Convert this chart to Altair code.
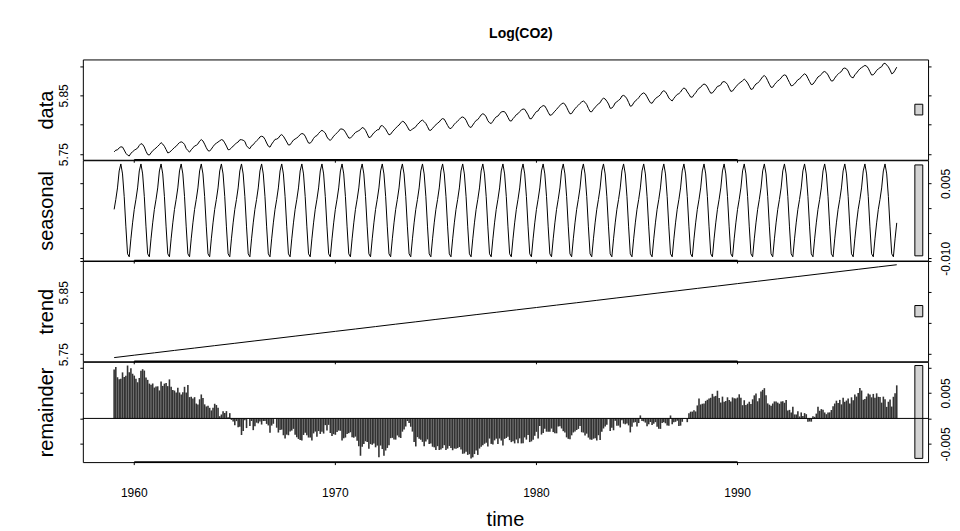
import altair as alt
import numpy as np
import pandas as pd

# Monthly atmospheric CO2 (ppm), Mauna Loa, one row per year (Jan..Dec), 1959-1997
first_year = 1959
co2_ppm = [
    [315.42, 316.31, 316.50, 317.56, 318.13, 318.00, 316.39, 314.65, 313.68, 313.18, 314.66, 315.43],
    [316.27, 316.81, 317.42, 318.87, 319.87, 319.43, 318.01, 315.74, 314.00, 313.68, 314.84, 316.03],
    [316.73, 317.54, 318.38, 319.31, 320.42, 319.61, 318.42, 316.63, 314.83, 315.16, 315.94, 316.85],
    [317.78, 318.40, 319.53, 320.42, 320.85, 320.45, 319.45, 317.25, 316.11, 315.27, 316.53, 317.53],
    [318.58, 318.92, 319.70, 321.22, 322.08, 321.31, 319.58, 317.61, 316.05, 315.83, 316.91, 318.20],
    [319.41, 320.07, 320.74, 321.40, 322.06, 321.73, 320.27, 318.54, 316.54, 316.71, 317.53, 318.55],
    [319.27, 320.28, 320.73, 321.97, 322.00, 321.71, 321.05, 318.71, 317.66, 317.14, 318.70, 319.25],
    [320.46, 321.43, 322.23, 323.54, 323.91, 323.59, 322.24, 320.20, 318.48, 317.94, 319.63, 320.87],
    [322.17, 322.34, 322.88, 324.25, 324.83, 323.93, 322.38, 320.76, 319.10, 319.24, 320.56, 321.80],
    [322.40, 322.99, 323.73, 324.86, 325.40, 325.20, 323.98, 321.95, 320.18, 320.09, 321.16, 322.74],
    [323.83, 324.26, 325.47, 326.50, 327.21, 326.54, 325.72, 323.50, 322.22, 321.62, 322.69, 323.95],
    [324.89, 325.82, 326.77, 327.97, 327.91, 327.50, 326.18, 324.53, 322.93, 322.90, 323.85, 324.96],
    [326.01, 326.51, 327.01, 327.62, 328.76, 328.40, 327.20, 325.27, 323.20, 323.40, 324.63, 325.85],
    [326.60, 327.47, 327.58, 329.56, 329.90, 328.92, 327.88, 326.16, 324.68, 325.04, 326.34, 327.39],
    [328.37, 329.40, 330.14, 331.33, 332.31, 331.90, 330.70, 329.15, 327.35, 327.02, 327.99, 328.48],
    [329.18, 330.55, 331.32, 332.48, 332.92, 332.08, 331.01, 329.23, 327.27, 327.21, 328.29, 329.41],
    [330.23, 331.25, 331.87, 333.14, 333.80, 333.43, 331.73, 329.90, 328.40, 328.17, 329.32, 330.59],
    [331.58, 332.39, 333.33, 334.41, 334.71, 334.17, 332.89, 330.77, 329.14, 328.78, 330.14, 331.52],
    [332.75, 333.24, 334.53, 335.90, 336.57, 336.10, 334.76, 332.59, 331.42, 330.98, 332.24, 333.68],
    [334.80, 335.22, 336.47, 337.59, 337.84, 337.72, 336.37, 334.51, 332.60, 332.38, 333.75, 334.78],
    [336.05, 336.59, 337.79, 338.71, 339.30, 339.12, 337.56, 335.92, 333.75, 333.70, 335.12, 336.56],
    [337.84, 338.19, 339.91, 340.60, 341.29, 341.00, 339.39, 337.43, 335.72, 335.84, 336.93, 338.04],
    [339.06, 340.30, 341.21, 342.33, 342.74, 342.08, 340.32, 338.26, 336.52, 336.68, 338.19, 339.44],
    [340.57, 341.44, 342.53, 343.39, 343.96, 343.18, 341.88, 339.65, 337.81, 337.69, 339.09, 340.32],
    [341.20, 342.35, 342.93, 344.77, 345.58, 345.14, 343.81, 342.21, 339.69, 339.82, 340.98, 342.82],
    [343.52, 344.33, 345.11, 346.88, 347.25, 346.62, 345.22, 343.11, 340.90, 341.18, 342.80, 344.04],
    [344.79, 345.82, 347.25, 348.17, 348.74, 348.07, 346.38, 344.51, 342.92, 342.62, 344.06, 345.38],
    [346.11, 346.78, 347.68, 349.37, 350.03, 349.37, 347.76, 345.73, 344.68, 343.99, 345.48, 346.72],
    [347.84, 348.29, 349.23, 350.80, 351.66, 351.07, 349.33, 347.92, 346.27, 346.18, 347.64, 348.78],
    [350.25, 351.54, 352.05, 353.41, 354.04, 353.62, 352.22, 350.27, 348.55, 348.72, 349.91, 351.18],
    [352.60, 352.92, 353.53, 355.26, 355.52, 354.97, 353.75, 351.52, 349.64, 349.83, 351.14, 352.37],
    [353.50, 354.55, 355.23, 356.04, 357.00, 356.07, 354.67, 352.76, 350.82, 351.04, 352.69, 354.07],
    [354.59, 355.63, 357.03, 358.48, 359.22, 358.12, 356.06, 353.92, 352.05, 352.11, 353.64, 354.89],
    [355.88, 356.63, 357.72, 359.07, 359.58, 359.17, 356.94, 354.92, 352.94, 353.23, 354.09, 355.33],
    [356.63, 357.10, 358.32, 359.41, 360.23, 359.55, 357.53, 355.48, 353.67, 353.95, 355.30, 356.78],
    [358.34, 358.89, 359.95, 361.25, 361.67, 360.94, 359.55, 357.49, 355.84, 356.00, 357.59, 359.05],
    [359.98, 361.03, 361.66, 363.48, 363.82, 363.30, 361.94, 359.50, 358.11, 357.80, 359.61, 360.74],
    [362.09, 363.29, 364.06, 364.76, 365.45, 365.01, 363.70, 361.54, 359.51, 359.65, 360.80, 362.38],
    [363.23, 364.06, 364.61, 366.40, 366.84, 365.68, 364.52, 362.57, 360.24, 360.83, 362.49, 364.34],
]

# Periodic seasonal component of log(CO2), Jan..Dec
seasonal_cycle = [-0.0002, 0.0018, 0.0041, 0.0075, 0.0089, 0.0069,
                  0.0024, -0.0037, -0.0091, -0.0097, -0.0061, -0.0029]

# Trend component, at each January plus the last month
trend_times = [1959, 1960, 1961, 1962, 1963, 1964, 1965, 1966, 1967, 1968,
               1969, 1970, 1971, 1972, 1973, 1974, 1975, 1976, 1977, 1978,
               1979, 1980, 1981, 1982, 1983, 1984, 1985, 1986, 1987, 1988,
               1989, 1990, 1991, 1992, 1993, 1994, 1995, 1996, 1997, 1997.9167]
trend_values = [5.7445, 5.7484, 5.7522, 5.7561, 5.7599, 5.7638, 5.7676, 5.7715, 5.7753, 5.7792,
                5.7830, 5.7869, 5.7907, 5.7946, 5.7985, 5.8023, 5.8062, 5.8100, 5.8139, 5.8177,
                5.8216, 5.8254, 5.8293, 5.8331, 5.8370, 5.8409, 5.8447, 5.8486, 5.8524, 5.8563,
                5.8601, 5.8640, 5.8678, 5.8717, 5.8755, 5.8794, 5.8832, 5.8871, 5.8910, 5.8945]

x_ticks = [1960, 1970, 1980, 1990]
x_title = "time"
data_ticks = [5.75, 5.80, 5.85, 5.90]
data_labels = [5.75, 5.85]
seasonal_ticks = [-0.010, -0.005, 0.000, 0.005]
seasonal_labels = [-0.010, 0.005]
trend_ticks = [5.75, 5.80, 5.85, 5.90]
trend_labels = [5.75, 5.85]
remainder_ticks = [-0.005, 0.000, 0.005, 0.010]
remainder_labels = [-0.005, 0.005]

# ---- assemble series (STL parts: remainder = data - seasonal - trend) ----
n_years = len(co2_ppm)
time = first_year + np.arange(12 * n_years) / 12.0
log_co2 = np.log(np.array(co2_ppm).ravel())
seasonal = np.tile(np.array(seasonal_cycle), n_years)
trend_monthly = np.interp(time, trend_times, trend_values)
remainder = log_co2 - seasonal - trend_monthly

df = pd.DataFrame({"time": time, "data": log_co2, "seasonal": seasonal,
                   "trend": trend_monthly, "remainder": remainder, "zero": 0.0})
trend_df = pd.DataFrame({"time": trend_times, "trend": trend_values})


def r_lim(vals, f=0.04):
    lo, hi = float(np.min(vals)), float(np.max(vals))
    d = (hi - lo) * f
    return [lo - d, hi + d]


xlim = r_lim(time)
doms = {"data": r_lim(log_co2), "seasonal": r_lim(seasonal),
        "trend": r_lim(trend_values), "remainder": r_lim(remainder)}
ranges = {"data": np.ptp(log_co2), "seasonal": np.ptp(seasonal),
          "trend": np.ptp(trend_values), "remainder": np.ptp(remainder)}
mx = min(ranges.values())
dx = (xlim[1] - xlim[0]) / 64.0

W, H = 847, 100.5
FONT = "Liberation Sans"
TICK_PX = 3.0
xscale = alt.Scale(domain=xlim, nice=False, zero=False)


def label_expr(labels, fmt):
    cond = " || ".join(f"abs(datum.value - ({v})) < 1e-9" for v in labels)
    return f"({cond}) ? replace(format(datum.value, '{fmt}'), '\u2212', '-') : ''"


def panel(name, ticks, labels, fmt, left_labels, bottom):
    dom = doms[name]
    span = dom[1] - dom[0]
    yscale = alt.Scale(domain=dom, nice=False, zero=False)
    left_axis = alt.Axis(orient="left", values=ticks, labels=left_labels,
                         labelExpr=label_expr(labels, fmt),
                         labelAngle=270, labelAlign="center", labelBaseline="alphabetic",
                         labelPadding=12, labelFontSize=12, labelFlush=False,
                         labelOverlap=False, labelBound=False,
                         tickSize=3, tickColor="black", domain=False, grid=False,
                         title=name, titleAngle=270, titleX=-30, titleY=H / 2,
                         titleAlign="center", titleBaseline="alphabetic",
                         titleFontSize=20, titleFontWeight="normal", titleFont=FONT)
    right_axis = alt.Axis(orient="right", values=ticks, labels=not left_labels,
                          labelExpr=label_expr(labels, fmt),
                          labelAngle=270, labelAlign="center", labelBaseline="top",
                          labelPadding=9, labelFontSize=12, labelFlush=False,
                          labelOverlap=False, labelBound=False,
                          tickSize=3, tickColor="black", domain=False, grid=False, title=None)

    base = alt.Chart(df)
    if name == "remainder":
        main = base.mark_rule(color="#333333", strokeWidth=1.6).encode(
            x=alt.X("time:Q", scale=xscale, axis=None),
            y=alt.Y("zero:Q", scale=yscale, axis=left_axis),
            y2="remainder:Q")
    elif name == "trend":
        main = alt.Chart(trend_df).mark_line(color="black", strokeWidth=1).encode(
            x=alt.X("time:Q", scale=xscale, axis=None),
            y=alt.Y("trend:Q", scale=yscale, axis=left_axis))
    else:
        main = base.mark_line(color="black", strokeWidth=1).encode(
            x=alt.X("time:Q", scale=xscale, axis=None),
            y=alt.Y(f"{name}:Q", scale=yscale, axis=left_axis))

    # range bar (same data length in every panel)
    mid = (dom[0] + dom[1]) / 2.0
    bar_df = pd.DataFrame({"x1": [xlim[1] - dx], "x2": [xlim[1] - 0.4 * dx],
                           "lo": [mid - mx / 2.0], "hi": [mid + mx / 2.0]})
    bar = alt.Chart(bar_df).mark_rect(fill="#d3d3d3", stroke="black", strokeWidth=1).encode(
        x=alt.X("x1:Q", scale=xscale, axis=None), x2="x2:Q",
        y=alt.Y("lo:Q", scale=yscale, axis=right_axis), y2="hi:Q")

    # time axis: line from first to last tick + outward ticks at the panel bottom
    seg_df = pd.DataFrame({"x1": [x_ticks[0]], "x2": [x_ticks[-1]], "y": [dom[0]]})
    seg = alt.Chart(seg_df).mark_rule(color="black", strokeWidth=1.6).encode(
        x=alt.X("x1:Q", scale=xscale, axis=None), x2="x2:Q",
        y=alt.Y("y:Q", scale=yscale, axis=None))
    tick_df = pd.DataFrame({"t": x_ticks, "y0": dom[0], "y1": dom[0] - span * TICK_PX / H})
    tks = alt.Chart(tick_df).mark_rule(color="black", strokeWidth=1).encode(
        x=alt.X("t:Q", scale=xscale, axis=None),
        y=alt.Y("y0:Q", scale=yscale, axis=None), y2="y1:Q")

    layers = [main, bar, seg, tks]
    if name == "remainder":
        zl = alt.Chart(pd.DataFrame({"z": [0.0]})).mark_rule(color="black", strokeWidth=1).encode(
            y=alt.Y("z:Q", scale=yscale, axis=None))
        layers.append(zl)
    if bottom:
        tick_labels = alt.Chart(pd.DataFrame({"t": x_ticks})).mark_text(
            fontSize=12, font=FONT, baseline="middle", align="center", color="black").encode(
            x=alt.X("t:Q", scale=xscale, axis=None),
            y=alt.value(H + 31),
            text=alt.Text("t:Q", format="d"))
        title_df = pd.DataFrame({"t": [(xlim[0] + xlim[1]) / 2.0], "lab": [x_title]})
        ttl = alt.Chart(title_df).mark_text(
            fontSize=20, font=FONT, baseline="middle", align="center", color="black").encode(
            x=alt.X("t:Q", scale=xscale, axis=None),
            y=alt.value(H + 58),
            text="lab:N")
        layers += [tick_labels, ttl]
    return alt.layer(*layers).resolve_axis(y="independent").properties(width=W, height=H)


p1 = panel("data", data_ticks, data_labels, ".2f", True, False)
p2 = panel("seasonal", seasonal_ticks, seasonal_labels, ".3f", False, False)
p3 = panel("trend", trend_ticks, trend_labels, ".2f", True, False)
p4 = panel("remainder", remainder_ticks, remainder_labels, ".3f", False, True)

chart = alt.vconcat(p1, p2, p3, p4, spacing=0, bounds="flush").properties(
    title=alt.TitleParams("Log(CO2)", fontSize=14, fontWeight="bold", anchor="middle",
                          offset=18, dx=27, font=FONT, color="black"),
    padding={"left": 28, "top": 18, "right": 0, "bottom": 4},
).configure(font=FONT).configure_view(stroke="black", strokeWidth=1).configure_axis(
    labelColor="black", titleColor="black", labelFont=FONT, titleFont=FONT)

chart.save("out.html", embed_options={"renderer": "svg", "actions": False})
